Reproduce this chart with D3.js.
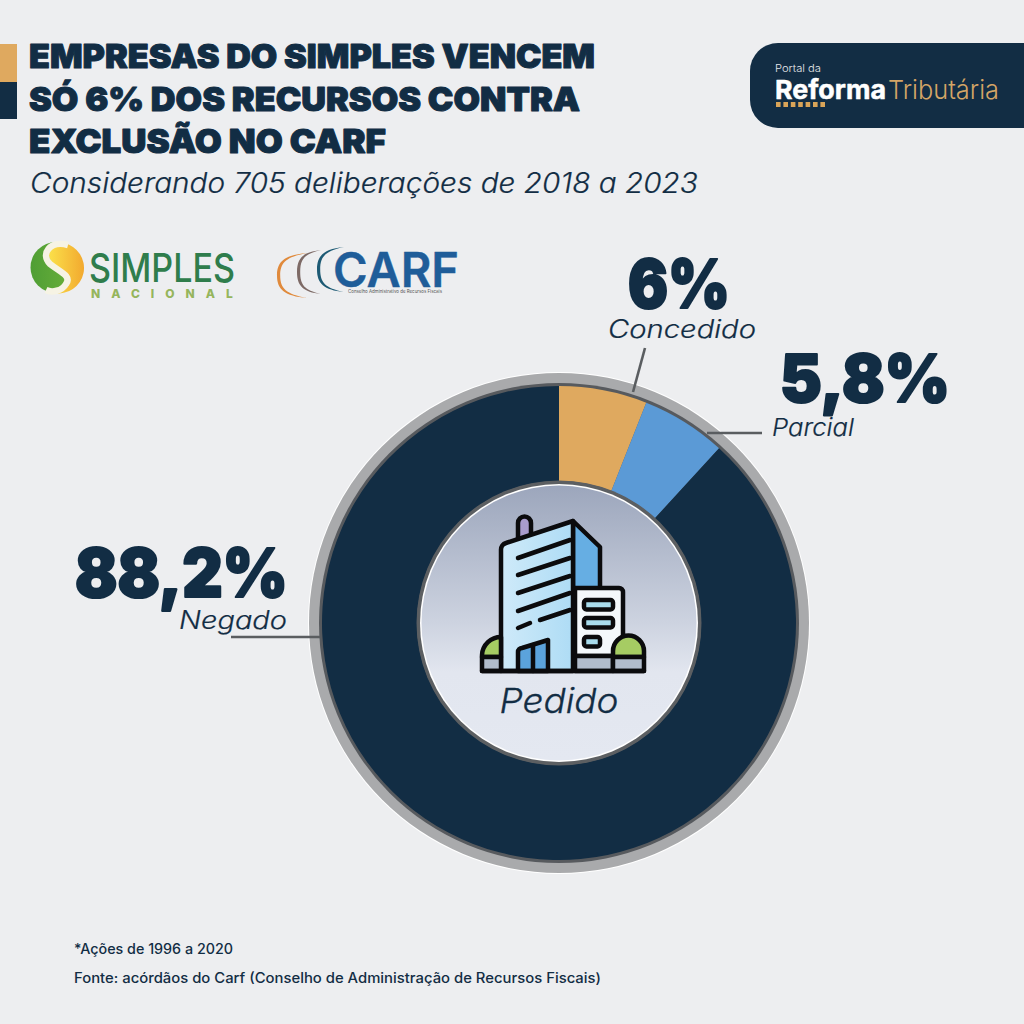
<!DOCTYPE html>
<html><head><meta charset="utf-8">
<script src="https://cdn.jsdelivr.net/npm/d3@7"></script>
<style>html,body{margin:0;padding:0;background:#edeef0}svg{display:block}</style>
</head><body><svg id="c" width="1024" height="1024"></svg>
<script>
const categories=["Concedido","Parcial","Negado"];
const values=[6,5.8,88.2];
const valueLabels=["6%","5,8%","88,2%"];
const sliceColors=["#dfa95f","#5b9ad6","#122d44"];
const titleLines=["EMPRESAS DO SIMPLES VENCEM","SÓ 6% DOS RECURSOS CONTRA","EXCLUSÃO NO CARF"];
const subtitle="Considerando 705 deliberações de 2018 a 2023";
const notes=["*Ações de 1996 a 2020","Fonte: acórdãos do Carf (Conselho de Administração de Recursos Fiscais)"];

const NAVY="#122d44";
const HEAD="Inter, 'Noto Sans', sans-serif", BODY="Inter, 'Noto Sans', sans-serif";
const svg=d3.select("#c");
svg.append("rect").attr("width",1024).attr("height",1024).attr("fill","#edeef0");
function T(p,s,x,y,size,o={}){
  const t=p.append("text").attr("x",x).attr("y",y).text(s).attr("font-size",size)
   .attr("font-family",o.font||BODY).attr("font-weight",o.w||400).attr("fill",o.fill||NAVY)
   .attr("font-style",o.it?"italic":"normal").attr("text-anchor",o.a||"start");
  if(o.len){t.attr("textLength",o.len).attr("lengthAdjust","spacingAndGlyphs");}
  if(o.ls){t.attr("letter-spacing",o.ls);}
  if(o.stroke){t.attr("stroke",o.fill||NAVY).attr("stroke-width",o.stroke).attr("stroke-linejoin","round").attr("paint-order","stroke");}
  return t;
}
// title
svg.append("rect").attr("x",0).attr("y",44).attr("width",17).attr("height",38).attr("fill","#dfa95f");
svg.append("rect").attr("x",0).attr("y",82).attr("width",17).attr("height",37).attr("fill",NAVY);
const titleLens=[566,551,357];
titleLines.forEach((s,i)=>T(svg,s,29,68+i*42.7,33,{font:HEAD,w:900,len:titleLens[i],stroke:1}));
T(svg,subtitle,30,193,28,{it:1,len:668,w:300,stroke:.2});

// brand
svg.append("path").attr("d","M1024,43H778a28,28 0 0 0 -28,28V100a28,28 0 0 0 28,28H1024Z").attr("fill",NAVY);
T(svg,"Portal da",775,72,10.5,{fill:"#e6e8ea",len:46,w:300});
T(svg,"Reforma",775,99,26,{font:HEAD,w:700,fill:"#fff",len:111,stroke:.5});
T(svg,"Tributária",888,99,26,{w:300,fill:"#d4a566",len:111});
svg.append("g").selectAll("rect").data(d3.range(7)).join("rect")
  .attr("x",d=>776+d*7.4).attr("y",102).attr("width",4.6).attr("height",5).attr("fill","#d9a458");

// Simples logo
const defs=svg.append("defs");
const lg=svg.append("g");
const yg=defs.append("linearGradient").attr("id","yel").attr("x1",0).attr("x2",1).attr("y1",0).attr("y2",0);
yg.append("stop").attr("offset",0).attr("stop-color","#fbe04a");
yg.append("stop").attr("offset",1).attr("stop-color","#f2a92f");
const gg=defs.append("linearGradient").attr("id","grn").attr("x1",0).attr("x2",1).attr("y1",0).attr("y2",0);
gg.append("stop").attr("offset",0).attr("stop-color","#4f9e35");
gg.append("stop").attr("offset",1).attr("stop-color","#6fb33a");
lg.append("circle").attr("cx",56).attr("cy",267.5).attr("r",25.5).attr("fill","url(#grn)");
lg.append("path").attr("d","M64,243A25.5,25.5 0 0 1 54,293C74,286 70,274 56,266C44,258 48,244 64,243Z").attr("fill","url(#yel)");
lg.append("path").attr("d","M68,245C50,240 40,254 50,264C60,272 72,276 66,284C62,291 52,293 46,290").attr("fill","none").attr("stroke","#f6f3e4").attr("stroke-width",6.5);
T(lg,"SIMPLES",89,282,40,{fill:"#2f7d4c",len:146,w:500});
T(lg,"NACIONAL",91,298,12,{fill:"#95b55c",w:800,ls:11});

// CARF logo
const arcs=[["#e08a3c",307,253,298,277],["#7d6a66",321,250,294,297],["#1d5a74",344,247,292,317]];
svg.append("g").selectAll("path").data(arcs).join("path").attr("fill",d=>d[0])
  .attr("d",([c,x,t,b,l])=>{const m=(t+b)/2;const k=(x-l);return `M${x},${t}C${x-k*.75},${t+2} ${l},${m-14} ${l},${m}C${l},${m+14} ${x-k*.75},${b-2} ${x},${b}C${x-k*.7},${b-4} ${l+3.2},${m+13} ${l+3.2},${m}C${l+3.2},${m-13} ${x-k*.7},${t+4} ${x},${t}Z`;});
T(svg,"CARF",333,287,48,{fill:"#1f5d99",w:600,len:126,stroke:.4});
T(svg,"Conselho Administrativo de Recursos Fiscais",348,293,4.6,{fill:"#555",len:94});

// donut
const cx=559,cy=623;
const g=svg.append("g").attr("transform",`translate(${cx},${cy})`);
g.append("circle").attr("r",251).attr("fill","#fff");
g.append("circle").attr("r",250).attr("fill","#a9aaac");
g.append("circle").attr("r",240).attr("fill","#575a5e");
const pie=d3.pie().sort(null).value(d=>d)(values);
const arc=d3.arc().innerRadius(142).outerRadius(237);
g.selectAll("path.s").data(pie).join("path").attr("class","s").attr("d",arc).attr("fill",(d,i)=>sliceColors[i]);

// inner disc
const gr=defs.append("linearGradient").attr("id","disc").attr("x1",0).attr("x2",0).attr("y1",0).attr("y2",1);
gr.append("stop").attr("offset",0).attr("stop-color","#9ca6bc");
gr.append("stop").attr("offset",.5).attr("stop-color","#cdd3e0");
gr.append("stop").attr("offset",.68).attr("stop-color","#e2e6ef");
gr.append("stop").attr("offset",1).attr("stop-color","#e4e8f1");
g.append("circle").attr("r",142.5).attr("fill","#5c5f62");
g.append("circle").attr("r",139).attr("fill","#fff");
g.append("circle").attr("r",137.5).attr("fill","url(#disc)");

// building icon, in reference pixel coordinates
const bg=defs.append("linearGradient").attr("id","bld").attr("x1",0).attr("x2",1).attr("y1",0).attr("y2",0);
bg.append("stop").attr("offset",0).attr("stop-color","#cfeaf9");
bg.append("stop").attr("offset",1).attr("stop-color","#aedcf5");
const ic=svg.append("g").attr("stroke","#0b0b0d").attr("stroke-width",4.5).attr("stroke-linejoin","round").attr("stroke-linecap","round");
const P=(d,f)=>ic.append("path").attr("d",d).attr("fill",f||"none");
P("M518,541V523a6.5,6.5 0 0 1 13,0V536Z","#a99ccd");
P("M573,521L600,547V590H573Z","#66aee3");
P("M501,671V550a7,7 0 0 1 5,-7L573,521V671Z","url(#bld)");
P("M518,671V652a4,4 0 0 1 4,-4L548,640V671Z","#5ba3dc");
P("M533,645V671");
["M518,558L570,540","M518,575L570,558","M518,593L570,576","M518,611L570,593"].forEach(d=>P(d));
P("M518,628L530,623");P("M540,620L570,610");
P("M575,588H619a4,4 0 0 1 4,4V656H575Z","#f4f8fb");
[[584,600,29],[584,618,29],[584,637,16]].forEach(([x,y,w])=>ic.append("rect").attr("x",x).attr("y",y).attr("width",w).attr("height",9.5).attr("rx",2.5).attr("fill","#a9dcec"));
P("M482,657V655a19,19 0 0 1 19,-18V657Z","#a6cc63");
P("M613,657V651a15.5,15.5 0 0 1 31,0V657Z","#a6cc63");
P("M482,657H501V671H482Z","#b1bccb");
P("M575,656H613V671H575Z","#b1bccb");
P("M613,657H644V671H613Z","#b1bccb");
P("M482,671H644");
T(svg,"Pedido",559,713,34,{it:1,a:"middle",len:119,w:300,stroke:.3});

// leader lines
const lead=svg.append("g").attr("stroke","#5a5d60").attr("stroke-width",2.6).attr("fill","none");
const leaderPaths=["M633,392L645,348","M707,433H762","M231,637H320"];
leaderPaths.forEach(d=>lead.append("path").attr("d",d));

// labels
T(svg,valueLabels[0],679,308,67,{font:HEAD,w:900,a:"middle",len:102,stroke:2.2});
T(svg,categories[0],682,338,25,{it:1,a:"middle",len:148,w:300,stroke:.2});
T(svg,valueLabels[1],865,402,66,{font:HEAD,w:900,a:"middle",len:170,stroke:2.2});
T(svg,categories[1],813,436,24,{it:1,a:"middle",len:82,w:300,stroke:.2});
T(svg,valueLabels[2],181.5,597,67,{font:HEAD,w:900,a:"middle",len:213,stroke:2.2});
T(svg,categories[2],233,629,25,{it:1,a:"middle",len:108,w:300,stroke:.2});

// footnotes
T(svg,notes[0],74,954,14,{w:500,len:159});
T(svg,notes[1],74,983,14,{w:500,len:527});
</script></body></html>
